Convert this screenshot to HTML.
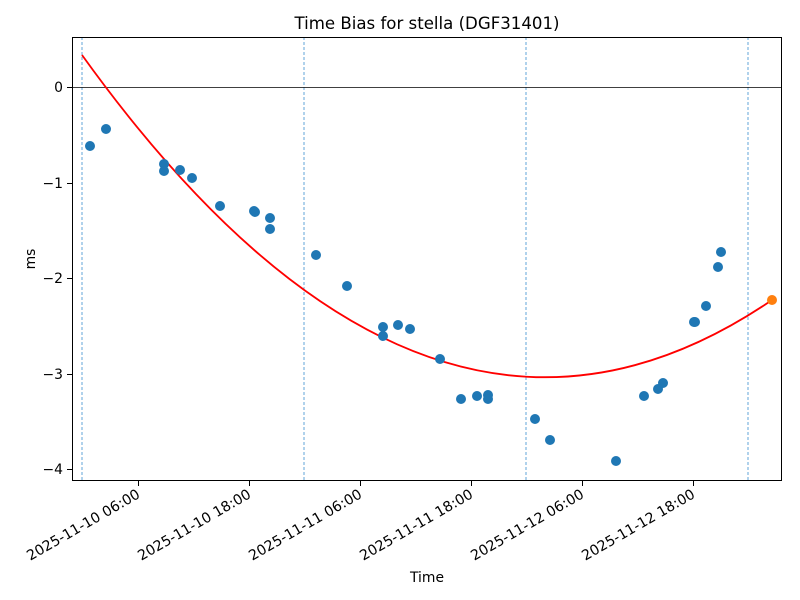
<!DOCTYPE html>
<html><head><meta charset="utf-8"><style>body{margin:0;background:#fff}svg{display:block;font-family:"DejaVu Sans","Liberation Sans",sans-serif}</style></head><body>
<svg width="800" height="600" viewBox="0 0 800 600">
<rect width="800" height="600" fill="#fff"/>
<defs><clipPath id="c"><rect x="72" y="37" width="710" height="444"/></clipPath></defs>
<text x="427" y="29" font-size="16.6" text-anchor="middle">Time Bias for stella (DGF31401)</text>
<g stroke="#3a8fd0" stroke-width="0.8" stroke-dasharray="3,2">
<line x1="82" y1="37" x2="82" y2="481"/><line x1="304" y1="37" x2="304" y2="481"/><line x1="526" y1="37" x2="526" y2="481"/><line x1="748" y1="37" x2="748" y2="481"/></g>
<line x1="72" y1="87.5" x2="782" y2="87.5" stroke="#000" stroke-width="0.8"/>
<g clip-path="url(#c)"><path d="M82,55 Q427,535 772,300" fill="none" stroke="#f00" stroke-width="1.8"/></g>
<g fill="#1f77b4">
<circle cx="90" cy="146" r="5"/><circle cx="106" cy="129" r="5"/><circle cx="164" cy="164" r="5"/><circle cx="164" cy="171" r="5"/><circle cx="180" cy="170" r="5"/><circle cx="192" cy="178" r="5"/><circle cx="220" cy="206" r="5"/><circle cx="254" cy="211" r="5"/><circle cx="255" cy="212" r="5"/><circle cx="270" cy="218" r="5"/><circle cx="270" cy="229" r="5"/><circle cx="316" cy="255" r="5"/><circle cx="347" cy="286" r="5"/><circle cx="383" cy="327" r="5"/><circle cx="383" cy="336" r="5"/><circle cx="398" cy="325" r="5"/><circle cx="410" cy="329" r="5"/><circle cx="440" cy="359" r="5"/><circle cx="461" cy="399" r="5"/><circle cx="477" cy="396" r="5"/><circle cx="488" cy="395" r="5"/><circle cx="488" cy="399" r="5"/><circle cx="535" cy="419" r="5"/><circle cx="550" cy="440" r="5"/><circle cx="616" cy="461" r="5"/><circle cx="644" cy="396" r="5"/><circle cx="658" cy="389" r="5"/><circle cx="663" cy="383" r="5"/><circle cx="694" cy="322" r="5"/><circle cx="695" cy="322" r="5"/><circle cx="706" cy="306" r="5"/><circle cx="718" cy="267" r="5"/><circle cx="721" cy="252" r="5"/>
</g>
<circle cx="772" cy="300" r="5" fill="#ff7f0e"/>
<rect x="72.5" y="37.5" width="709" height="443" fill="none" stroke="#000" stroke-width="1"/>
<g stroke="#000" stroke-width="1">
<line x1="67" y1="87.5" x2="72" y2="87.5"/><line x1="67" y1="183.5" x2="72" y2="183.5"/><line x1="67" y1="278.5" x2="72" y2="278.5"/><line x1="67" y1="374.5" x2="72" y2="374.5"/><line x1="67" y1="469.5" x2="72" y2="469.5"/>
<line x1="138.5" y1="481" x2="138.5" y2="486"/><line x1="249.5" y1="481" x2="249.5" y2="486"/><line x1="360.5" y1="481" x2="360.5" y2="486"/><line x1="471.5" y1="481" x2="471.5" y2="486"/><line x1="582.5" y1="481" x2="582.5" y2="486"/><line x1="693.5" y1="481" x2="693.5" y2="486"/>
</g>
<g font-size="13.9" text-anchor="end">
<text x="63" y="92">0</text><text x="63" y="188">−1</text><text x="63" y="283">−2</text><text x="63" y="379">−3</text><text x="63" y="474">−4</text>
</g>
<g font-size="14.2" text-anchor="end">
<text transform="translate(141,497) rotate(-30)">2025-11-10 06:00</text>
<text transform="translate(252,497) rotate(-30)">2025-11-10 18:00</text>
<text transform="translate(363,497) rotate(-30)">2025-11-11 06:00</text>
<text transform="translate(474,497) rotate(-30)">2025-11-11 18:00</text>
<text transform="translate(585,497) rotate(-30)">2025-11-12 06:00</text>
<text transform="translate(696,497) rotate(-30)">2025-11-12 18:00</text>
</g>
<text x="427" y="582" font-size="13.9" text-anchor="middle">Time</text>
<text transform="translate(35,259) rotate(-90)" font-size="13.9" text-anchor="middle">ms</text>
</svg>
</body></html>
